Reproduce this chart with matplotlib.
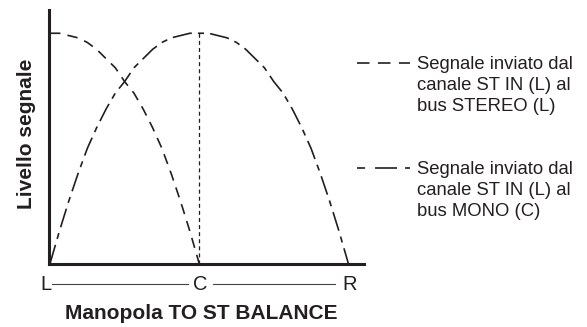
import numpy as np
import matplotlib
matplotlib.use("Agg")
import matplotlib.pyplot as plt
from matplotlib.lines import Line2D
from matplotlib.transforms import blended_transform_factory

plt.rcParams['font.family'] = ['Liberation Sans', 'DejaVu Sans']
plt.rcParams['lines.scale_dashes'] = False

INK = '#231f20'

# knob position: L = -1, C = 0, R = +1
stereo_pos = np.linspace(-1, 0, 17)
stereo_level = [1.00, 1.00, 0.99, 0.98, 0.96, 0.93, 0.89, 0.85, 0.79,
                0.74, 0.67, 0.59, 0.50, 0.39, 0.27, 0.14, 0.00]

mono_pos = np.linspace(-1, 1, 33)
mono_level = [0.00, 0.14, 0.27, 0.39, 0.50, 0.59, 0.67, 0.74, 0.79,
              0.85, 0.89, 0.93, 0.96, 0.98, 0.99, 1.00, 1.00, 1.00,
              0.99, 0.98, 0.96, 0.93, 0.89, 0.85, 0.79, 0.74, 0.67,
              0.59, 0.50, 0.39, 0.27, 0.14, 0.00]

knob_labels = ['L', 'C', 'R']
knob_ticks = [-1, 0, 1]

legend_text = [
    ["Segnale inviato dal", "canale ST IN (L) al", "bus STEREO (L)"],
    ["Segnale inviato dal", "canale ST IN (L) al", "bus MONO (C)"],
]

W, H = 587, 327
fig = plt.figure(figsize=(W / 100, H / 100), dpi=100)
ax = fig.add_axes([49 / W, (H - 263.5) / H, 315 / W, 253.5 / H])

stereo_dash = (0, (7.5, 5.2))
mono_dash = (0, (14.0, 4.4, 4.4, 4.4))

ax.plot(stereo_pos, stereo_level, color=INK, lw=1.2, linestyle=stereo_dash,
        clip_on=False)
ax.plot(mono_pos, mono_level, color=INK, lw=1.2, linestyle=mono_dash,
        clip_on=False)
# centre marker
ax.plot([0, 0], [0, 1], color=INK, lw=0.9, linestyle=(0, (2.9, 2.2)))

ax.set_xlim(-1.007, 1.105)
ax.set_ylim(0, 1.101)
for side in ('top', 'right'):
    ax.spines[side].set_visible(False)
for side in ('left', 'bottom'):
    ax.spines[side].set_linewidth(2.2)
    ax.spines[side].set_color(INK)
ax.set_xticks([])
ax.set_yticks([])

# L / C / R scale under the axis
tr = blended_transform_factory(ax.transData, ax.transAxes)
for pos, lab in zip(knob_ticks, knob_labels):
    ax.text(pos - 0.03 if lab == 'L' else pos + 0.01, -0.081, lab,
            transform=tr, ha='center', va='center', fontsize=14.5,
            color=INK, clip_on=False)
ax.plot([-0.985, -0.075], [-0.081, -0.081], transform=tr, color='#444444',
        lw=0.8, clip_on=False)
ax.plot([0.093, 0.91], [-0.081, -0.081], transform=tr, color='#444444',
        lw=0.8, clip_on=False)

fig.text(201 / W, 1 - 319 / H, "Manopola TO ST BALANCE", ha='center',
         va='baseline', fontsize=15, fontweight='bold', color=INK)
fig.text(32 / W, 1 - 134 / H, "Livello segnale", rotation=90,
         rotation_mode='anchor', ha='center', va='baseline', fontsize=15,
         fontweight='bold', color=INK)

# legend entries
legend_dashes = [(0, (9.0, 6.1)), (0, (5.8, 7.2, 15.8, 5.8, 4.0, 100))]
legend_y = [63, 168]
for lines, dash, y in zip(legend_text, legend_dashes, legend_y):
    fig.add_artist(Line2D([357 / W, 410 / W], [1 - y / H, 1 - y / H],
                          transform=fig.transFigure, color=INK, lw=1.2,
                          linestyle=dash))
    for i, line in enumerate(lines):
        fig.text(417 / W, 1 - (y + 6 + 21 * i) / H, line, ha='left',
                 va='baseline', fontsize=13.3, color=INK)

fig.savefig('out.png', dpi=100)
